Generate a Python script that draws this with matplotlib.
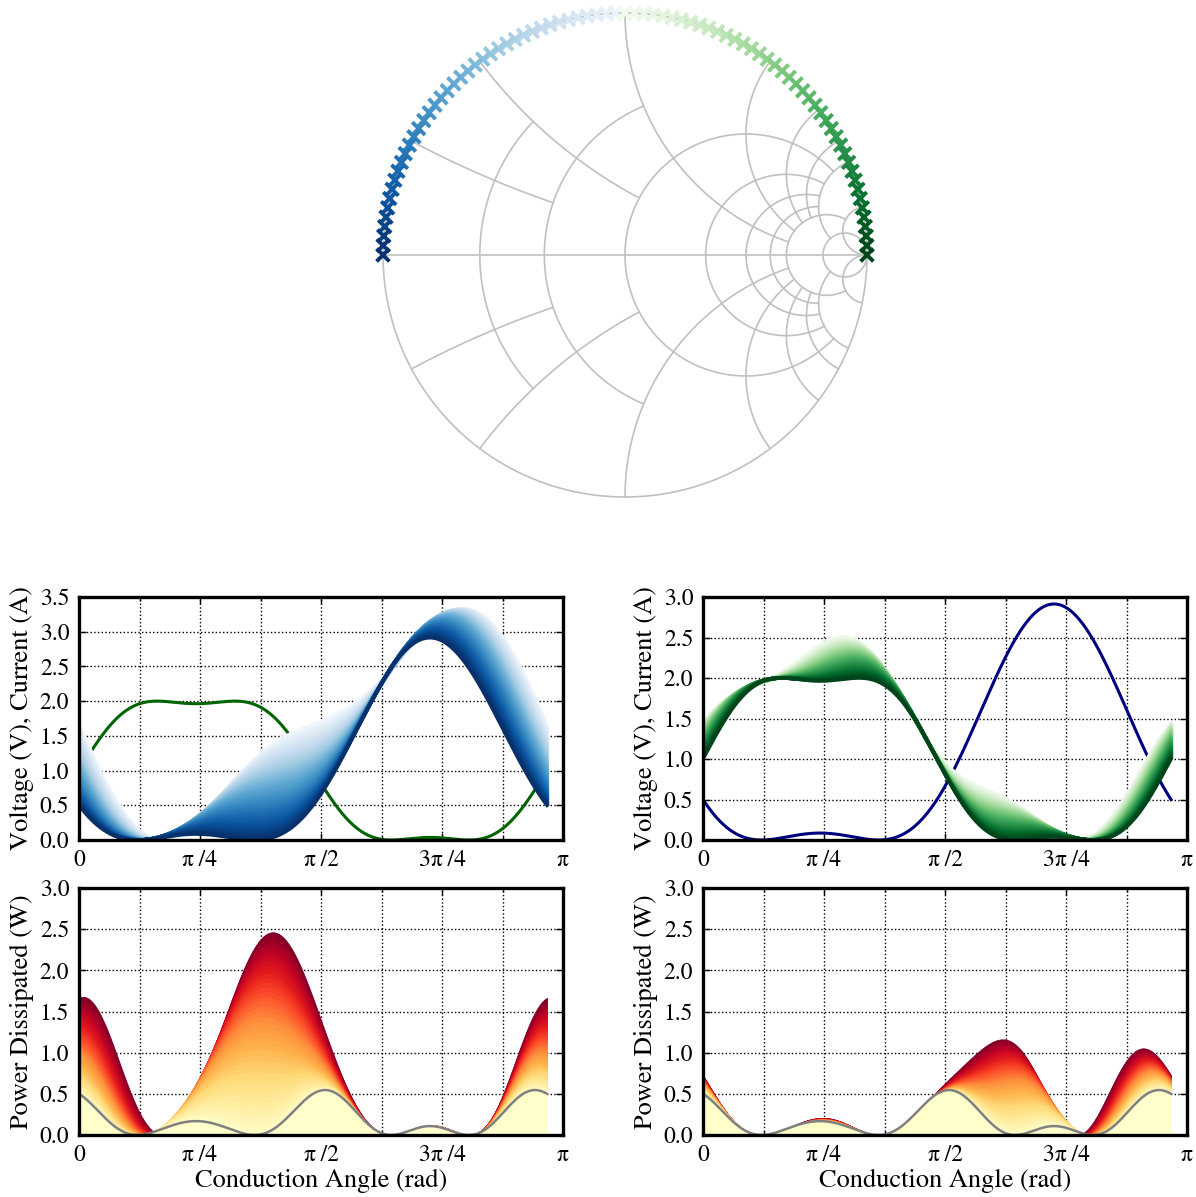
import numpy as np
import matplotlib
matplotlib.use("Agg")
import matplotlib.pyplot as plt
from matplotlib.ticker import MultipleLocator


plt.rcParams["font.family"] = ["STIXGeneral", "Liberation Serif", "DejaVu Serif"]
plt.rcParams["mathtext.fontset"] = "stix"

# normalised harmonic content of the reference waveforms (cos terms)
V_FUND = -1.414
V_H2 = 0.5
I_FUND = 1.155
I_H3 = -0.192

# last conduction angle that is plotted (fraction of pi)
X_END = 0.967

# reflection-coefficient angles (deg) of the swept terminations
BLUE_DEG = [180.0, 177.75, 175.5, 173.25, 171.0, 168.75, 166.5, 164.25, 162.0, 159.75,
            157.5, 155.25, 153.0, 150.75, 148.5, 146.25, 144.0, 141.75, 139.5, 137.25,
            135.0, 132.75, 130.5, 128.25, 126.0, 123.75, 121.5, 119.25, 117.0, 114.75,
            112.5, 110.25, 108.0, 105.75, 103.5, 101.25, 99.0, 96.75, 94.5, 92.25, 90.0]
GREEN_DEG = [0.0, 2.25, 4.5, 6.75, 9.0, 11.25, 13.5, 15.75, 18.0, 20.25,
             22.5, 24.75, 27.0, 29.25, 31.5, 33.75, 36.0, 38.25, 40.5, 42.75,
             45.0, 47.25, 49.5, 51.75, 54.0, 56.25, 58.5, 60.75, 63.0, 65.25,
             67.5, 69.75, 72.0, 74.25, 76.5, 78.75, 81.0, 83.25, 85.5, 87.75, 90.0]

# smith chart grid: (value, limit of the other coordinate)
R_CIRCLES = [(0.25, 0.5), (0.5, 1), (1, 5), (2, 5), (3, 5), (4, 5), (5, 10), (10, np.inf)]
X_ARCS = [(0.25, 0.5), (0.5, 1), (1, 5), (2, 5), (3, 5), (4, 5), (5, 10), (10, np.inf)]

TICK_POS = [0, 0.25, 0.5, 0.75, 1.0]
TICK_TXT = ["0", "π\u2009/4", "π\u2009/2", "3π\u2009/4", "π"]

GRID_GRAY = "#c0c0c0"


def gamma(z):
    return (z - 1) / (z + 1)


def smith(ax):
    t = np.linspace(0, 2 * np.pi, 400)
    ax.plot(np.cos(t), np.sin(t), color=GRID_GRAY, lw=1.2, zorder=1)
    ax.plot([-1, 1], [0, 0], color=GRID_GRAY, lw=1.2, zorder=1)
    for r, xmax in R_CIRCLES:
        phi = np.linspace(-np.arctan(xmax), np.arctan(xmax), 300)
        g = gamma(r + 1j * np.tan(phi))
        ax.plot(g.real, g.imag, color=GRID_GRAY, lw=1.2, zorder=1)
    for xv, rmax in X_ARCS:
        phi = np.linspace(0, np.arctan(rmax), 300)
        for s in (1, -1):
            g = gamma(np.tan(phi) + 1j * s * xv)
            ax.plot(g.real, g.imag, color=GRID_GRAY, lw=1.2, zorder=1)


def style(ax, ymax, ylabel, xlabel=None):
    ax.set_xlim(0, np.pi)
    ax.set_ylim(0, ymax)
    ax.set_xticks([p * np.pi for p in TICK_POS])
    ax.set_xticklabels(TICK_TXT)
    ax.xaxis.set_minor_locator(MultipleLocator(np.pi / 8))
    ax.yaxis.set_major_locator(MultipleLocator(0.5))
    ax.grid(True, which="both", axis="x", color="black", linestyle=":", lw=1.0)
    ax.grid(True, which="major", axis="y", color="black", linestyle=":", lw=1.0)
    ax.tick_params(which="both", direction="in", top=True, right=True, labelsize=17, pad=7)
    ax.tick_params(which="major", length=5, width=1)
    ax.tick_params(which="minor", length=3, width=1)
    for sp in ax.spines.values():
        sp.set_linewidth(2.4)
        sp.set_zorder(5)
    ax.set_ylabel(ylabel, fontsize=19)
    if xlabel:
        ax.set_xlabel(xlabel, fontsize=19, labelpad=2)


def main():
    psi = np.radians(np.linspace(-90, 270, 600))
    x = np.linspace(0, X_END * np.pi, 600)

    v0 = V_FUND * np.cos(psi) + V_H2 * np.cos(2 * psi)
    v0 = v0 - v0.min()
    i0 = I_FUND * np.cos(psi) + I_H3 * np.cos(3 * psi)
    i0 = i0 - i0.min()

    volts = []
    for a in BLUE_DEG:
        ac = V_FUND * np.cos(psi) + V_H2 * np.cos(2 * psi + np.radians(a - 180))
        volts.append(ac - ac.min())
    amps = []
    for b in GREEN_DEG:
        ac = I_FUND * np.cos(psi) + I_H3 * np.cos(3 * psi + np.radians(b))
        amps.append(ac - ac.min())

    n = len(BLUE_DEG)
    frac = [k / (n - 1) for k in range(n)]
    blues = [plt.cm.Blues(1 - 0.97 * f) for f in frac]
    greens = [plt.cm.Greens(1 - 0.97 * f) for f in frac]
    heat = [plt.cm.YlOrRd(f) for f in frac]

    fig = plt.figure(figsize=(11.96, 11.97), dpi=100)

    # smith chart
    ax_s = fig.add_axes([(625 - 262) / 1196, (1197 - 255 - 262) / 1197, 524 / 1196, 524 / 1197])
    smith(ax_s)
    lim = 262 / 242
    ax_s.set_xlim(-lim, lim)
    ax_s.set_ylim(-lim, lim)
    ax_s.set_aspect("equal")
    ax_s.axis("off")
    ab = np.radians(BLUE_DEG)
    ag = np.radians(GREEN_DEG)
    ax_s.scatter(np.cos(ab)[::-1], np.sin(ab)[::-1], marker="x", s=85, linewidths=2.8,
                 c=blues[::-1], zorder=3)
    ax_s.scatter(np.cos(ag)[::-1], np.sin(ag)[::-1], marker="x", s=85, linewidths=2.8,
                 c=greens[::-1], zorder=3)

    ax_tl = fig.add_axes([79 / 1196, 1 - 840 / 1197, 484 / 1196, 243 / 1197])
    ax_tr = fig.add_axes([703 / 1196, 1 - 840 / 1197, 484 / 1196, 243 / 1197])
    ax_bl = fig.add_axes([79 / 1196, 1 - 1135 / 1197, 484 / 1196, 247 / 1197])
    ax_br = fig.add_axes([703 / 1196, 1 - 1135 / 1197, 484 / 1196, 247 / 1197])

    # voltage sweep, fixed current
    ax_tl.plot(x, i0, color="darkgreen", lw=2.2, zorder=2)
    for k in reversed(range(n)):
        ax_tl.plot(x, volts[k], color=blues[k], lw=2.6, zorder=3)
    style(ax_tl, 3.5, "Voltage (V), Current (A)")

    # current sweep, fixed voltage
    ax_tr.plot(x, v0, color="navy", lw=2.2, zorder=2)
    for k in reversed(range(n)):
        ax_tr.plot(x, amps[k], color=greens[k], lw=2.6, zorder=3)
    style(ax_tr, 3.0, "Voltage (V), Current (A)")

    # dissipated power
    for k in reversed(range(n)):
        ax_bl.fill_between(x, 0, volts[k] * i0, color=heat[k], lw=0.6, zorder=2)
        ax_br.fill_between(x, 0, v0 * amps[k], color=heat[k], lw=0.6, zorder=2)
    ax_bl.plot(x, v0 * i0, color="gray", lw=1.8, zorder=4)
    ax_br.plot(x, v0 * i0, color="gray", lw=1.8, zorder=4)
    style(ax_bl, 3.0, "Power Dissipated (W)", "Conduction Angle (rad)")
    style(ax_br, 3.0, "Power Dissipated (W)", "Conduction Angle (rad)")

    fig.savefig("out.png", dpi=100)
    plt.close(fig)


if __name__ == "__main__":
    main()
